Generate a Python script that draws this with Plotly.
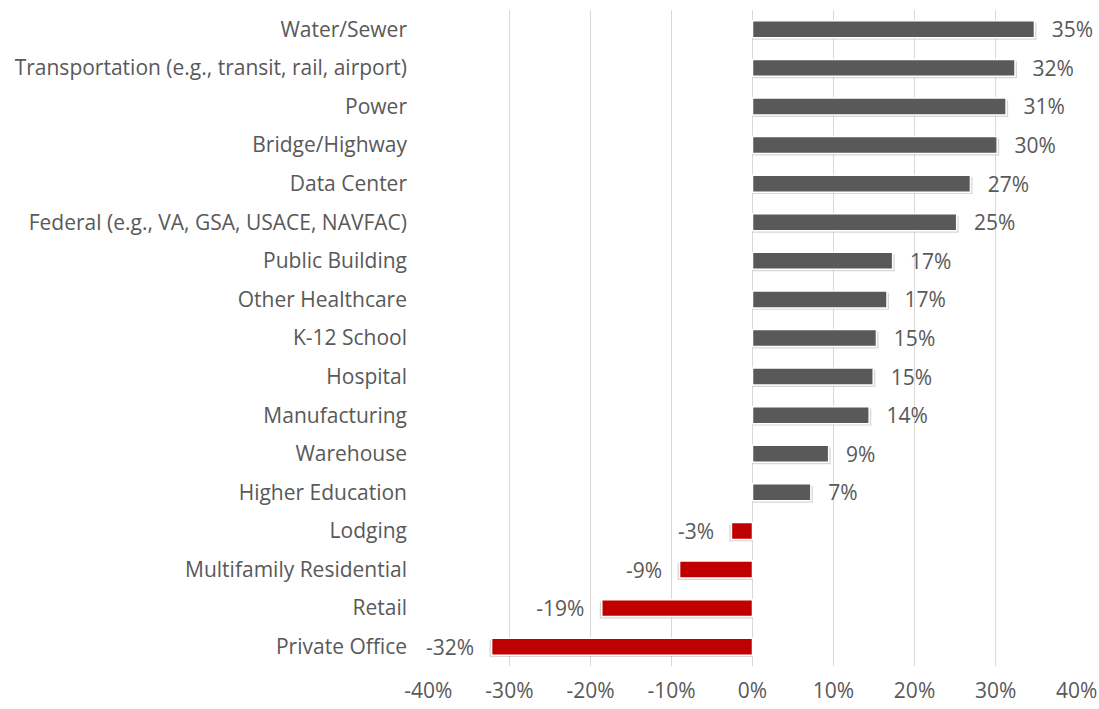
import plotly.graph_objects as go

categories = ["Water/Sewer", "Transportation (e.g., transit, rail, airport)", "Power",
              "Bridge/Highway", "Data Center", "Federal (e.g., VA, GSA, USACE, NAVFAC)",
              "Public Building", "Other Healthcare", "K-12 School", "Hospital",
              "Manufacturing", "Warehouse", "Higher Education", "Lodging",
              "Multifamily Residential", "Retail", "Private Office"]
values = [0.348, 0.324, 0.313, 0.302, 0.269, 0.252, 0.173, 0.166, 0.153, 0.149,
          0.144, 0.094, 0.072, -0.026, -0.090, -0.186, -0.322]
labels = ["35%", "32%", "31%", "30%", "27%", "25%", "17%", "17%", "15%", "15%",
          "14%", "9%", "7%", "-3%", "-9%", "-19%", "-32%"]
tick_vals = [-0.4, -0.3, -0.2, -0.1, 0, 0.1, 0.2, 0.3, 0.4]
tick_text = ["-40%", "-30%", "-20%", "-10%", "0%", "10%", "20%", "30%", "40%"]

FONT = "Open Sans"
colors = ["#595959" if v >= 0 else "#C00000" for v in values]
texts = ["  \u2009" + t if v >= 0 else t + "  \u2009" for t, v in zip(labels, values)]
BAR_W = 0.44
shadow_x = [v + (0.0025 if v >= 0 else -0.0025) for v in values]

fig = go.Figure()
# soft drop shadow behind the bars
fig.add_trace(go.Bar(
    y=categories, x=shadow_x, orientation="h",
    width=BAR_W, offset=-BAR_W / 2 + 0.05,
    marker=dict(color="rgba(140,140,140,0.35)", line=dict(width=0)),
    hoverinfo="skip", showlegend=False,
))
fig.add_trace(go.Bar(
    y=categories, x=values, orientation="h",
    width=BAR_W, offset=-BAR_W / 2,
    marker=dict(color=colors, line=dict(color="white", width=1.5)),
    text=texts, textposition="outside", cliponaxis=False, constraintext="none",
    textfont=dict(size=21, color="#595959", family=FONT),
    showlegend=False,
))
fig.update_layout(
    width=1099, height=709,
    margin=dict(l=428, r=22, t=10, b=43, autoexpand=False),
    paper_bgcolor="white", plot_bgcolor="white",
    barmode="overlay", showlegend=False,
    font=dict(family=FONT, size=21, color="#595959"),
)
fig.update_xaxes(range=[-0.4005, 0.4005], tickvals=tick_vals, ticktext=tick_text,
                 showgrid=True, gridcolor="#d9d9d9", gridwidth=1.3,
                 zeroline=False, showline=False, ticks="", automargin=False,
                 ticklabelstandoff=10)
fig.update_yaxes(autorange="reversed", showgrid=False, zeroline=False,
                 showline=False, ticks="", ticklabelstandoff=20, automargin=False)
fig.write_html("out.html", config={"displayModeBar": False},
               post_script="document.body.style.margin='0';document.body.style.padding='0';")
